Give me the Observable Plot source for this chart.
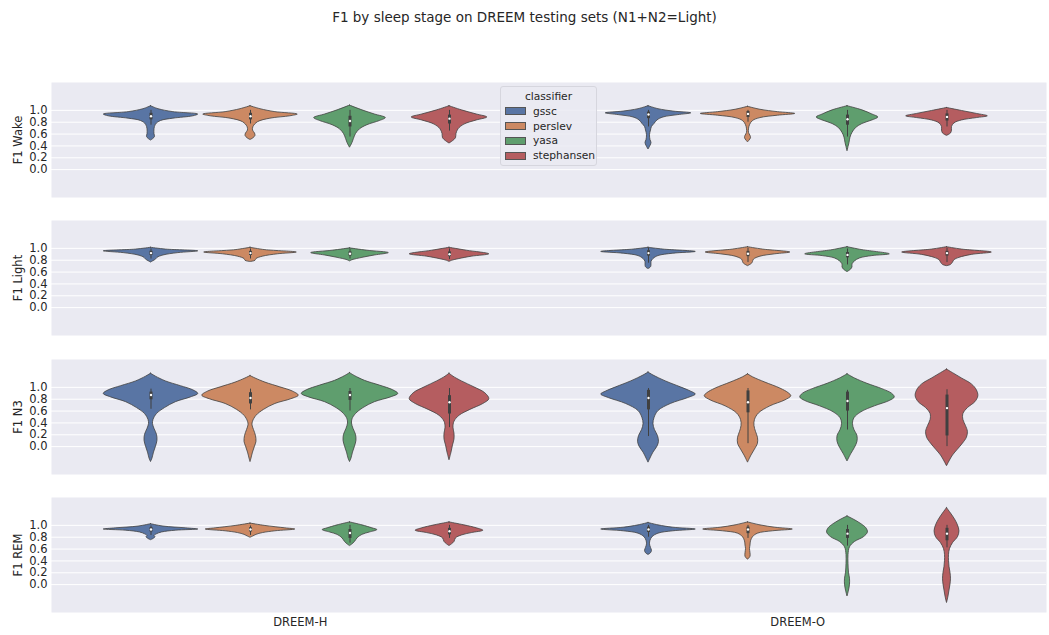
<!DOCTYPE html>
<html>
<head>
<meta charset="utf-8">
<script src="https://cdn.jsdelivr.net/npm/d3@7"></script>
<script src="https://cdn.jsdelivr.net/npm/@observablehq/plot@0.6"></script>
<style>
  body { margin: 0; background: #fff; font-family: "DejaVu Sans", sans-serif; color: #262626; }
  #fig { position: relative; width: 1049px; height: 635px; overflow: hidden; }
  #title { position: absolute; top: 9px; left: 0; width: 1049px; text-align: center; font-size: 13.5px; }
  .panel { position: absolute; left: 0; }
  #legend { position: absolute; left: 500px; top: 86px; width: 97px; height: 80px; box-sizing: border-box;
            background: rgba(234,234,242,0.85); border: 1px solid #d6d6de; border-radius: 3px; font-size: 10.7px; }
  #legend .lt { text-align: center; margin-top: 2px; height: 15px; line-height: 15px; }
  #legend .row { display: flex; align-items: center; height: 14.8px; padding-left: 4px; }
  #legend .sw { width: 21px; height: 8px; margin-right: 7px; box-sizing: border-box; border: 0.6px solid #555; }
</style>
</head>
<body>
<div id="fig">
  <div id="title">F1 by sleep stage on DREEM testing sets (N1+N2=Light)</div>
</div>
<script>
// ---------------- data ----------------
const datasets = ["DREEM-H", "DREEM-O"];
const classifiers = ["gssc", "perslev", "yasa", "stephansen"];
const stages = ["Wake", "Light", "N3", "REM"];
const classColors = ["#5975a4", "#cc8963", "#5f9e6e", "#b55d60"];
const yTicks = [0, 0.2, 0.4, 0.6, 0.8, 1.0];

// violin density profiles: [F1 value, relative half-width]
// order within each array: gssc, perslev, yasa, stephansen
const wakeH = [
  [[1.07,0],[1.02,0.15],[0.97,0.45],[0.93,0.95],[0.90,0.85],[0.86,0.45],[0.82,0.2],[0.76,0.1],[0.68,0.07],[0.6,0.07],[0.55,0.08],[0.52,0.05],[0.49,0]],
  [[1.07,0],[1.02,0.2],[0.97,0.5],[0.93,0.95],[0.90,0.8],[0.86,0.4],[0.8,0.15],[0.72,0.06],[0.66,0.05],[0.61,0.09],[0.57,0.1],[0.53,0.06],[0.5,0]],
  [[1.08,0],[1.0,0.25],[0.93,0.5],[0.87,0.72],[0.82,0.6],[0.75,0.35],[0.68,0.2],[0.6,0.12],[0.52,0.08],[0.45,0.05],[0.37,0]],
  [[1.07,0],[1.0,0.25],[0.93,0.55],[0.88,0.76],[0.83,0.55],[0.76,0.3],[0.68,0.18],[0.6,0.14],[0.53,0.13],[0.48,0.07],[0.44,0]]
];
const wakeO = [
  [[1.07,0],[1.02,0.2],[0.98,0.5],[0.95,0.86],[0.92,0.6],[0.88,0.3],[0.83,0.18],[0.77,0.12],[0.72,0.07],[0.66,0.05],[0.58,0.03],[0.5,0.04],[0.45,0.06],[0.4,0.04],[0.34,0]],
  [[1.06,0],[1.01,0.25],[0.97,0.6],[0.94,0.95],[0.91,0.6],[0.87,0.25],[0.82,0.1],[0.75,0.04],[0.68,0.02],[0.62,0.02],[0.57,0.05],[0.53,0.06],[0.49,0.03],[0.46,0]],
  [[1.07,0],[1.0,0.3],[0.93,0.5],[0.88,0.62],[0.83,0.5],[0.77,0.3],[0.7,0.17],[0.62,0.1],[0.54,0.06],[0.45,0.04],[0.38,0.02],[0.31,0]],
  [[1.04,0],[0.99,0.3],[0.94,0.6],[0.9,0.82],[0.87,0.6],[0.83,0.3],[0.78,0.15],[0.72,0.1],[0.66,0.1],[0.61,0.08],[0.57,0]]
];
const lightH = [
  [[1.01,0],[0.98,0.3],[0.95,0.95],[0.92,0.55],[0.88,0.25],[0.84,0.13],[0.81,0.1],[0.78,0.04],[0.76,0]],
  [[1.01,0],[0.97,0.3],[0.93,0.93],[0.9,0.55],[0.86,0.25],[0.82,0.12],[0.79,0.1],[0.77,0]],
  [[1.0,0],[0.96,0.35],[0.92,0.78],[0.88,0.5],[0.84,0.25],[0.8,0.05],[0.78,0]],
  [[1.01,0],[0.96,0.35],[0.9,0.8],[0.86,0.45],[0.82,0.2],[0.79,0.05],[0.77,0]]
];
const lightO = [
  [[1.01,0],[0.98,0.3],[0.94,0.95],[0.91,0.5],[0.87,0.2],[0.82,0.1],[0.77,0.06],[0.72,0.06],[0.68,0.05],[0.65,0]],
  [[1.02,0],[0.98,0.3],[0.93,0.85],[0.9,0.55],[0.86,0.25],[0.81,0.12],[0.77,0.1],[0.74,0.08],[0.7,0]],
  [[1.02,0],[0.97,0.3],[0.9,0.85],[0.87,0.5],[0.83,0.25],[0.78,0.15],[0.73,0.1],[0.68,0.1],[0.64,0.07],[0.6,0]],
  [[1.02,0],[0.98,0.3],[0.93,0.9],[0.89,0.5],[0.84,0.25],[0.8,0.15],[0.76,0.12],[0.72,0.08],[0.7,0]]
];
const n3H = [
  [[1.23,0],[1.18,0.1],[1.1,0.3],[1.02,0.6],[0.95,0.85],[0.89,0.95],[0.83,0.8],[0.75,0.5],[0.65,0.28],[0.55,0.12],[0.45,0.05],[0.38,0.04],[0.3,0.07],[0.2,0.12],[0.1,0.13],[0.0,0.1],[-0.1,0.06],[-0.2,0.03],[-0.26,0]],
  [[1.19,0],[1.15,0.1],[1.08,0.3],[1.0,0.6],[0.93,0.85],[0.86,0.97],[0.8,0.82],[0.72,0.5],[0.62,0.27],[0.52,0.12],[0.42,0.05],[0.36,0.04],[0.28,0.07],[0.18,0.11],[0.08,0.12],[0.0,0.09],[-0.1,0.05],[-0.2,0.02],[-0.26,0]],
  [[1.24,0],[1.19,0.1],[1.11,0.3],[1.03,0.6],[0.95,0.87],[0.89,0.97],[0.83,0.82],[0.75,0.5],[0.65,0.27],[0.55,0.12],[0.46,0.05],[0.39,0.04],[0.3,0.07],[0.2,0.12],[0.1,0.13],[0.0,0.1],[-0.1,0.06],[-0.2,0.03],[-0.26,0]],
  [[1.23,0],[1.18,0.08],[1.1,0.25],[1.0,0.5],[0.9,0.72],[0.8,0.8],[0.72,0.68],[0.62,0.42],[0.52,0.2],[0.42,0.1],[0.32,0.08],[0.22,0.1],[0.12,0.1],[0.02,0.07],[-0.1,0.04],[-0.23,0]]
];
const n3O = [
  [[1.25,0],[1.2,0.1],[1.1,0.35],[1.0,0.65],[0.93,0.85],[0.88,0.95],[0.82,0.8],[0.72,0.45],[0.6,0.2],[0.48,0.12],[0.38,0.1],[0.28,0.13],[0.18,0.19],[0.08,0.21],[0.0,0.18],[-0.1,0.1],[-0.2,0.04],[-0.27,0]],
  [[1.22,0],[1.17,0.1],[1.08,0.35],[0.98,0.65],[0.9,0.82],[0.85,0.87],[0.78,0.75],[0.68,0.45],[0.56,0.22],[0.45,0.14],[0.35,0.13],[0.25,0.16],[0.15,0.2],[0.05,0.2],[-0.05,0.14],[-0.15,0.07],[-0.27,0]],
  [[1.22,0],[1.15,0.15],[1.06,0.4],[0.97,0.7],[0.89,0.9],[0.83,0.95],[0.77,0.85],[0.68,0.55],[0.58,0.28],[0.48,0.14],[0.38,0.11],[0.28,0.14],[0.18,0.2],[0.08,0.2],[-0.02,0.15],[-0.12,0.08],[-0.25,0]],
  [[1.3,0],[1.24,0.12],[1.15,0.3],[1.05,0.5],[0.95,0.6],[0.85,0.63],[0.75,0.57],[0.65,0.42],[0.55,0.33],[0.45,0.33],[0.35,0.38],[0.25,0.42],[0.15,0.4],[0.05,0.32],[-0.05,0.22],[-0.15,0.12],[-0.25,0.05],[-0.33,0]]
];
const remH = [
  [[1.02,0],[0.98,0.25],[0.95,0.7],[0.93,0.95],[0.91,0.5],[0.88,0.22],[0.85,0.12],[0.82,0.07],[0.8,0.09],[0.77,0.05],[0.75,0]],
  [[1.03,0],[0.99,0.3],[0.95,0.7],[0.93,0.9],[0.9,0.5],[0.87,0.25],[0.84,0.12],[0.81,0.05],[0.79,0]],
  [[1.05,0],[1.0,0.25],[0.95,0.45],[0.92,0.55],[0.88,0.4],[0.84,0.25],[0.78,0.15],[0.72,0.1],[0.68,0.05],[0.65,0]],
  [[1.05,0],[1.0,0.3],[0.95,0.55],[0.91,0.68],[0.87,0.45],[0.83,0.25],[0.78,0.13],[0.72,0.1],[0.68,0.05],[0.65,0]]
];
const remO = [
  [[1.04,0],[1.0,0.2],[0.96,0.5],[0.93,0.95],[0.9,0.5],[0.86,0.2],[0.8,0.08],[0.74,0.04],[0.68,0.03],[0.62,0.05],[0.57,0.07],[0.53,0.05],[0.5,0]],
  [[1.05,0],[1.0,0.25],[0.96,0.55],[0.93,0.9],[0.9,0.5],[0.86,0.2],[0.8,0.1],[0.73,0.06],[0.66,0.05],[0.6,0.04],[0.53,0.05],[0.47,0.05],[0.42,0]],
  [[1.15,0],[1.1,0.12],[1.02,0.28],[0.95,0.38],[0.88,0.41],[0.8,0.33],[0.72,0.15],[0.63,0.05],[0.5,0.02],[0.35,0.02],[0.2,0.03],[0.1,0.05],[0.0,0.05],[-0.1,0.03],[-0.2,0]],
  [[1.29,0],[1.2,0.08],[1.1,0.16],[1.0,0.22],[0.9,0.25],[0.8,0.22],[0.7,0.12],[0.6,0.06],[0.5,0.04],[0.4,0.04],[0.3,0.05],[0.2,0.07],[0.1,0.08],[0.0,0.07],[-0.1,0.05],[-0.2,0.03],[-0.31,0]]
];

// inner box stats: [whisker low, q1, median, q3, whisker high]
const wakeBoxH = [[0.75,0.84,0.90,0.95,1.0],[0.77,0.84,0.90,0.95,1.0],[0.55,0.72,0.82,0.90,1.0],[0.65,0.77,0.86,0.92,1.0]];
const wakeBoxO = [[0.72,0.86,0.93,0.97,1.0],[0.80,0.88,0.94,0.98,1.0],[0.55,0.75,0.85,0.92,1.0],[0.72,0.82,0.89,0.94,1.0]];
const lightBoxH = [[0.82,0.88,0.92,0.95,0.99],[0.82,0.88,0.92,0.95,0.99],[0.82,0.87,0.91,0.94,0.98],[0.81,0.86,0.90,0.94,0.99]];
const lightBoxO = [[0.75,0.87,0.92,0.96,1.0],[0.76,0.86,0.91,0.95,1.0],[0.72,0.84,0.89,0.93,0.99],[0.76,0.87,0.92,0.95,1.0]];
const n3BoxH = [[0.63,0.79,0.87,0.92,0.97],[0.62,0.72,0.82,0.91,0.97],[0.60,0.78,0.87,0.93,0.98],[0.32,0.55,0.75,0.86,0.98]];
const n3BoxO = [[0.17,0.62,0.82,0.95,0.98],[0.05,0.57,0.75,0.94,0.98],[0.28,0.60,0.77,0.92,0.95],[0.0,0.18,0.65,0.87,0.96]];
const remBoxH = [[0.83,0.89,0.93,0.96,0.99],[0.83,0.89,0.93,0.96,0.99],[0.70,0.78,0.87,0.93,1.0],[0.78,0.84,0.90,0.95,1.0]];
const remBoxO = [[0.80,0.88,0.93,0.97,1.0],[0.78,0.86,0.93,0.97,1.0],[0.65,0.78,0.86,0.93,1.0],[0.62,0.74,0.86,0.95,1.0]];

const violinsByStage = [[wakeH, wakeO], [lightH, lightO], [n3H, n3O], [remH, remO]];
const boxesByStage = [[wakeBoxH, wakeBoxO], [lightBoxH, lightBoxO], [n3BoxH, n3BoxO], [remBoxH, remBoxO]];

// ---------------- layout ----------------
const panelTops = [82, 220, 359, 497];
const panelH = 115;
const mTop = 10;
const hueWidth = 0.8 / classifiers.length;   // seaborn dodge width per hue
const edge = "#404040";

function center(di, ci) { return di + (ci - (classifiers.length - 1) / 2) * hueWidth; }

function makePanel(si, last) {
  const rows = [], boxes = [];
  violinsByStage[si].forEach((byClass, di) => {
    byClass.forEach((prof, ci) => {
      const cx = center(di, ci);
      prof.forEach(([v, w]) => rows.push({key: `${di}-${ci}`, cls: classifiers[ci], v,
        x1: cx - w * hueWidth / 2, x2: cx + w * hueWidth / 2}));
      const [lo, q1, med, q3, hi] = boxesByStage[si][di][ci];
      boxes.push({x: cx, lo, q1, med, q3, hi});
    });
  });
  const mBottom = last ? 23 : 12;
  return Plot.plot({
    width: 1049, height: mTop + panelH + mBottom,
    marginTop: mTop, marginBottom: mBottom, marginLeft: 51, marginRight: 3,
    style: {background: "transparent", fontFamily: "DejaVu Sans", fontSize: "11.5px", color: "#262626", overflow: "visible"},
    x: {domain: [-0.5, 1.5], axis: null},
    y: {domain: [-0.47, 1.47], axis: null},
    color: {domain: classifiers, range: classColors},
    marks: [
      Plot.frame({fill: "#EAEAF2", stroke: null}),
      Plot.gridY(yTicks, {stroke: "white", strokeOpacity: 1, strokeWidth: 1}),
      Plot.axisY(yTicks, {tickSize: 0, tickPadding: 4, tickFormat: d3.format(".1f"), fontSize: "11.5px",
        label: "F1 " + stages[si], labelAnchor: "center", labelArrow: "none", labelOffset: 38}),
      last ? Plot.axisX([0, 1], {tickSize: 0, tickPadding: 5, tickFormat: i => datasets[i], label: null, fontSize: "11.5px"}) : null,
      Plot.areaX(rows, {y: "v", x1: "x1", x2: "x2", z: "key", fill: "cls", stroke: edge, strokeWidth: 0.8, curve: "catmull-rom"}),
      Plot.ruleX(boxes, {x: "x", y1: "lo", y2: "hi", stroke: edge, strokeWidth: 1}),
      Plot.ruleX(boxes, {x: "x", y1: "q1", y2: "q3", stroke: edge, strokeWidth: 3}),
      Plot.dot(boxes, {x: "x", y: "med", r: 1.2, fill: "white", stroke: null})
    ]
  });
}

const fig = document.getElementById("fig");
stages.forEach((s, si) => {
  const p = makePanel(si, si === stages.length - 1);
  p.classList.add("panel");
  p.style.top = (panelTops[si] - mTop) + "px";
  fig.appendChild(p);
});

// legend
const leg = document.createElement("div");
leg.id = "legend";
leg.innerHTML = `<div class="lt">classifier</div>` +
  classifiers.map((c, i) => `<div class="row"><div class="sw" style="background:${classColors[i]}"></div><span>${c}</span></div>`).join("");
fig.appendChild(leg);
</script>
</body>
</html>
